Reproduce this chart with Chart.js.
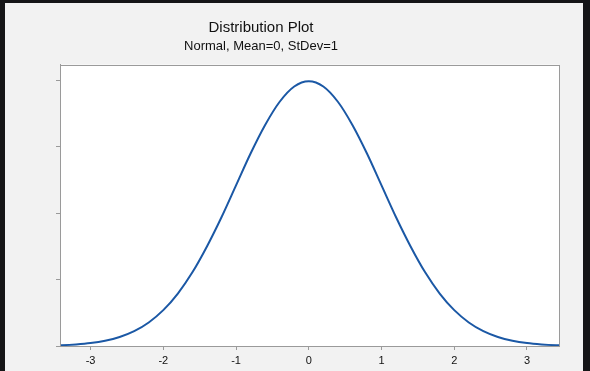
<!DOCTYPE html>
<html>
<head>
<meta charset="utf-8">
<script src="https://cdn.jsdelivr.net/npm/chart.js@4.4.1/dist/chart.umd.min.js"></script>
<style>
  html, body { margin: 0; padding: 0; background: #151517; width: 590px; height: 371px; overflow: hidden; }
  #wrap { position: absolute; left: 5px; top: 3px; width: 578px; height: 368px; background: #f2f2f2; }
</style>
</head>
<body>
<div id="wrap"><canvas id="distChart"></canvas></div>
<script>
const xValues = [-3.6,-3.4,-3.2,-3.0,-2.8,-2.6,-2.4,-2.2,-2.0,-1.8,-1.6,-1.4,-1.2,-1.0,-0.8,-0.6,-0.4,-0.2,0,
  0.2,0.4,0.6,0.8,1.0,1.2,1.4,1.6,1.8,2.0,2.2,2.4,2.6,2.8,3.0,3.2,3.4,3.6];
const densities = [0.0006,0.0012,0.0024,0.0044,0.0079,0.0136,0.0224,0.0355,0.054,0.079,0.111,0.150,0.194,0.242,0.290,0.333,0.368,0.391,0.399,
  0.391,0.368,0.333,0.290,0.242,0.194,0.150,0.111,0.079,0.054,0.0355,0.0224,0.0136,0.0079,0.0044,0.0024,0.0012,0.0006];
const xTicks = [-3,-2,-1,0,1,2,3];
const yTicks = [0,0.1,0.2,0.3,0.4];

const axisColor = "#9a9a9a";

// white plot area + box around it, titles centred a bit left like the original
const plotFrame = {
  id: "plotFrame",
  afterLayout(chart) {
    chart.boxes.forEach(b => {
      if (b.options && b.options.text !== undefined && b.position === "top") {
        b.left = 0;
        b.right = 512;
      }
    });
  },
  beforeDraw(chart) {
    const a = chart.chartArea, ctx = chart.ctx;
    ctx.save();
    ctx.fillStyle = "#ffffff";
    ctx.fillRect(a.left, a.top, a.right - a.left, a.bottom - a.top);
    ctx.restore();
  },
  afterDraw(chart) {
    const a = chart.chartArea, ctx = chart.ctx;
    ctx.save();
    ctx.strokeStyle = axisColor;
    ctx.lineWidth = 1;
    ctx.strokeRect(Math.round(a.left) + 0.5, Math.round(a.top) + 0.5, Math.round(a.right - a.left), Math.round(a.bottom - a.top));
    ctx.restore();
  }
};

new Chart(document.getElementById("distChart"), {
  type: "line",
  data: {
    datasets: [{
      data: xValues.map((x, i) => ({ x: x, y: densities[i] })),
      borderColor: "#1b58a5",
      borderWidth: 2,
      pointRadius: 0,
      fill: false,
      cubicInterpolationMode: "monotone"
    }]
  },
  plugins: [plotFrame],
  options: {
    responsive: true,
    maintainAspectRatio: false,
    animation: false,
    layout: { padding: { left: 0, right: 24, top: 0, bottom: 0 } },
    plugins: {
      legend: { display: false },
      tooltip: { enabled: false },
      title: {
        display: true,
        text: "Distribution Plot",
        color: "#111",
        font: { family: "Liberation Sans, Arial, sans-serif", size: 15, weight: "normal" },
        padding: { top: 16, bottom: 0 }
      },
      subtitle: {
        display: true,
        text: "Normal, Mean=0, StDev=1",
        color: "#111",
        font: { family: "Liberation Sans, Arial, sans-serif", size: 13, weight: "normal" },
        padding: { top: 2, bottom: 10 }
      }
    },
    scales: {
      x: {
        type: "linear",
        min: -3.42,
        max: 3.44,
        afterBuildTicks: s => { s.ticks = xTicks.map(v => ({ value: v })); },
        afterFit: s => { s.height = 25; },
        ticks: {
          color: "#111",
          padding: 4,
          maxRotation: 0,
          font: { family: "Liberation Sans, Arial, sans-serif", size: 11 }
        },
        grid: { drawOnChartArea: false, drawTicks: true, tickLength: 4, color: axisColor },
        border: { display: true, color: axisColor }
      },
      y: {
        min: 0,
        max: 0.424,
        afterBuildTicks: s => { s.ticks = yTicks.map(v => ({ value: v })); },
        afterFit: s => { s.width = 55; },
        ticks: { display: false },
        grid: { drawOnChartArea: false, drawTicks: true, tickLength: 4, color: axisColor },
        border: { display: true, color: axisColor }
      }
    }
  }
});
</script>
</body>
</html>
